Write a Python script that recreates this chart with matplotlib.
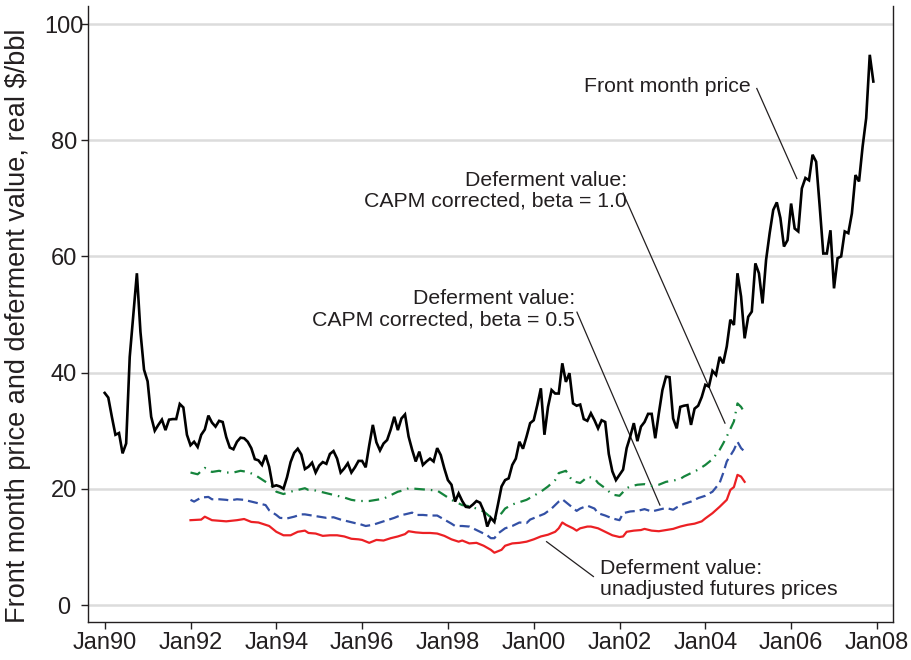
import matplotlib
matplotlib.use('Agg')
import matplotlib.pyplot as plt

plt.rcParams['font.family'] = ['Liberation Sans', 'DejaVu Sans']
plt.rcParams['lines.scale_dashes'] = False

# ---------------- data (months counted from Jan 1990) ----------------
front_price = [
    36.5, 35.7, 32.4, 29.3, 29.6, 26.1, 27.8, 42.7, 49.9, 57.1, 47.0, 40.5,   # 1990
    38.5, 32.4, 30.0, 31.0, 31.9, 30.1, 31.9, 32.0, 32.0, 34.6, 34.0, 29.3,   # 1991
    27.5, 28.1, 27.2, 29.3, 30.2, 32.6, 31.4, 30.7, 31.7, 31.5, 28.9, 27.1,   # 1992
    26.8, 28.1, 28.8, 28.7, 28.1, 27.0, 25.1, 24.9, 24.1, 25.8, 23.8, 20.4,   # 1993
    20.6, 20.4, 20.0, 22.0, 24.6, 26.2, 26.9, 25.9, 23.4, 23.8, 24.5, 22.8,   # 1994
    24.0, 24.6, 24.3, 26.0, 26.5, 25.2, 22.8, 23.5, 24.4, 22.8, 23.7, 24.8,   # 1995
    24.8, 23.7, 27.5, 31.0, 28.0, 26.6, 27.8, 28.4, 30.2, 32.4, 30.1, 32.1,   # 1996
    32.8, 29.0, 26.7, 24.7, 26.4, 24.1, 24.7, 25.2, 24.7, 27.0, 25.8, 23.5,   # 1997
    21.5, 20.7, 17.8, 19.2, 17.9, 16.9, 16.8, 17.3, 17.9, 17.6, 16.2, 13.5,   # 1998
    15.0, 14.3, 17.3, 20.4, 21.5, 21.8, 24.1, 25.2, 28.1, 26.9, 29.0, 31.3,   # 1999
    31.8, 34.4, 37.3, 29.3, 34.1, 37.0, 36.4, 36.4, 41.6, 38.4, 39.9, 34.7,   # 2000
    34.3, 34.5, 32.0, 31.7, 33.0, 31.8, 30.4, 31.8, 31.5, 26.0, 23.0, 21.5,   # 2001
    22.4, 23.3, 27.0, 29.0, 31.3, 28.2, 30.7, 31.5, 32.9, 32.9, 28.7, 33.0,   # 2002
    37.0, 39.3, 39.2, 32.1, 30.4, 34.1, 34.3, 34.4, 31.0, 33.8, 34.3, 35.8,   # 2003
    37.9, 37.6, 40.3, 39.6, 42.7, 41.6, 44.5, 49.1, 48.2, 57.1, 53.1, 45.9,   # 2004
    49.6, 50.5, 58.8, 57.1, 51.9, 59.4, 64.0, 68.0, 69.3, 66.6, 61.7, 62.8,   # 2005
    69.1, 64.8, 64.3, 71.7, 73.5, 73.1, 77.5, 76.3, 68.6, 60.5, 60.5, 64.5,   # 2006
    54.5, 59.7, 60.0, 64.3, 64.0, 67.4, 74.0, 72.9, 78.9, 83.8, 94.7, 90.1,   # 2007
]
front_months = list(range(len(front_price)))

unadj_months = [24, 27, 28, 30, 34, 37, 39, 41, 43, 44, 46, 48, 50, 52, 54, 56, 57, 59, 61, 63,
                65, 67, 69, 71, 72, 74, 76, 78, 80, 82, 84, 85, 87, 89, 91, 93, 95, 97, 99, 100,
                102, 104, 106, 108, 109, 111, 112, 114, 116, 118, 120, 122, 124, 126, 127, 128,
                129, 131, 132, 133, 135, 136, 138, 139, 141, 142, 144, 145, 146, 148, 150, 151,
                153, 155, 157, 159, 161, 163, 165, 167, 168, 170, 172, 174, 175, 176, 177, 178, 179]
unadj_value = [14.6, 14.7, 15.2, 14.6, 14.4, 14.6, 14.8, 14.3, 14.2, 14.0, 13.6, 12.6, 12.0, 12.0,
               12.6, 12.8, 12.4, 12.3, 11.9, 12.0, 12.0, 11.8, 11.4, 11.3, 11.2, 10.7, 11.2, 11.1,
               11.5, 11.8, 12.2, 12.7, 12.5, 12.4, 12.4, 12.3, 11.9, 11.3, 10.9, 11.1, 10.6, 10.7,
               10.2, 9.5, 9.0, 9.5, 10.2, 10.6, 10.7, 10.9, 11.3, 11.8, 12.1, 12.6, 13.2, 14.2,
               13.8, 13.2, 12.8, 13.2, 13.5, 13.5, 13.2, 12.9, 12.3, 12.0, 11.7, 11.8, 12.6, 12.8,
               12.9, 13.1, 12.8, 12.7, 12.9, 13.1, 13.5, 13.8, 14.0, 14.4, 14.9, 15.8, 16.9, 18.1,
               19.8, 20.3, 22.4, 22.1, 21.2]

beta05_months = [24, 25, 27, 29, 30, 32, 34, 35, 37, 39, 41, 43, 45, 46, 48, 49, 51, 53, 55, 56,
                 58, 60, 62, 64, 66, 68, 70, 71, 73, 75, 77, 79, 81, 83, 84, 86, 87, 89, 91, 93,
                 95, 97, 98, 100, 102, 104, 106, 107, 108, 109, 110, 112, 114, 116, 118, 119, 121,
                 123, 125, 127, 128, 130, 132, 133, 135, 137, 138, 140, 142, 144, 145, 147, 149,
                 151, 153, 155, 157, 159, 160, 162, 164, 166, 168, 170, 172, 173, 174, 176, 177,
                 178, 179]
beta05_value = [18.1, 17.8, 18.5, 18.6, 18.2, 18.2, 18.1, 18.0, 18.2, 18.1, 17.8, 17.5, 17.2, 16.3,
                15.5, 15.0, 14.9, 15.2, 15.6, 15.6, 15.4, 15.2, 15.0, 15.1, 14.7, 14.4, 14.1, 14.0,
                13.6, 13.8, 14.2, 14.6, 15.0, 15.5, 15.6, 15.9, 15.5, 15.5, 15.4, 15.4, 14.7, 14.0,
                13.6, 13.6, 13.5, 12.9, 12.3, 12.0, 11.5, 11.5, 12.3, 13.2, 13.6, 14.2, 14.1, 14.7,
                15.2, 15.7, 16.6, 17.8, 18.2, 17.2, 16.2, 16.6, 17.1, 16.6, 15.8, 15.4, 14.9, 14.6,
                15.8, 16.1, 16.2, 16.5, 16.1, 16.4, 16.7, 16.4, 16.8, 17.4, 17.8, 18.4, 18.8, 19.5,
                21.0, 22.7, 24.7, 26.7, 28.1, 27.0, 26.4]

beta10_months = [24, 26, 28, 29, 30, 32, 34, 36, 38, 40, 42, 43, 45, 47, 48, 50, 52, 54, 56, 57,
                 59, 61, 63, 65, 67, 69, 71, 72, 74, 76, 78, 80, 82, 84, 85, 87, 89, 91, 93, 95,
                 97, 99, 100, 102, 104, 106, 108, 109, 111, 112, 114, 116, 118, 120, 122, 124, 126,
                 127, 129, 130, 131, 133, 134, 135, 137, 138, 140, 142, 144, 146, 147, 149, 151,
                 153, 155, 157, 159, 161, 162, 164, 166, 168, 170, 172, 173, 174, 176, 177, 178, 179]
beta10_value = [22.8, 22.5, 23.6, 23.3, 22.9, 23.1, 22.8, 22.8, 23.1, 22.9, 22.4, 22.0, 21.2, 20.4,
                19.5, 19.1, 19.5, 19.8, 20.1, 19.8, 19.7, 19.4, 19.1, 18.8, 18.5, 18.1, 17.9, 17.9,
                17.9, 18.1, 18.3, 18.9, 19.5, 19.8, 20.1, 20.0, 19.9, 19.8, 19.7, 18.9, 18.1, 17.5,
                17.2, 17.0, 16.6, 16.1, 15.1, 14.7, 15.8, 16.6, 17.3, 17.7, 18.1, 18.8, 19.5, 20.4,
                21.5, 22.7, 23.1, 22.1, 21.3, 21.0, 21.5, 22.1, 21.8, 21.0, 20.1, 19.0, 18.8, 20.1,
                20.4, 20.7, 20.8, 20.5, 20.7, 21.2, 21.4, 21.7, 22.1, 22.7, 23.3, 24.1, 25.1, 26.7,
                27.8, 29.0, 31.6, 34.7, 34.1, 33.1]

xtick_months = [0, 24, 48, 72, 96, 120, 144, 168, 192, 216]
xtick_labels = ['Jan90', 'Jan92', 'Jan94', 'Jan96', 'Jan98', 'Jan00', 'Jan02', 'Jan04', 'Jan06', 'Jan08']
ytick_values = [0, 20, 40, 60, 80, 100]
y_label = 'Front month price and deferment value, real $/bbl'

label_front = 'Front month price'
label_b10 = 'Deferment value:\nCAPM corrected, beta = 1.0'
label_b05 = 'Deferment value:\nCAPM corrected, beta = 0.5'
label_unadj = 'Deferment value:\nunadjusted futures prices'

# ---------------- figure ----------------
W, H = 912, 660
fig = plt.figure(figsize=(W / 100, H / 100), dpi=100)
left_px, right_px, bottom_px, top_px = 88.4, 893, 622, 6
ax = fig.add_axes([left_px / W, (H - bottom_px) / H, (right_px - left_px) / W, (bottom_px - top_px) / H])

ax.set_xlim(-4.56, 220.5)
ax.set_ylim((605 - bottom_px) / 5.81, 103.1)

ax.yaxis.grid(True, color='#dcdcdc', lw=1.8)
ax.set_axisbelow(True)

ax.plot(front_months, front_price, color='black', lw=1.9, solid_joinstyle='miter', zorder=5)
ax.plot(unadj_months, unadj_value, color='#ec2024', lw=1.6, zorder=4)
ax.plot(beta05_months, beta05_value, color='#3350a5', lw=1.6, dashes=(7.2, 3.6), zorder=4)
ax.plot(beta10_months, beta10_value, color='#15843c', lw=1.6, dashes=(7.6, 4.3, 1.1, 4.3), zorder=4)

fs_txt = 15.3
txt_col = '#231f20'
ax.text(157.3, 89.3, label_front, fontsize=fs_txt, color=txt_col, ha='center', va='center')
ax.plot([182.4, 193.6], [88.9, 73.4], color=txt_col, lw=0.9)

ax.text(146.1, 71.3, label_b10, fontsize=fs_txt, color=txt_col, ha='right', va='center',
        multialignment='right', linespacing=1.15)
ax.plot([145.0, 173.5], [70.9, 31.3], color=txt_col, lw=0.9)

ax.text(131.6, 50.9, label_b05, fontsize=fs_txt, color=txt_col, ha='right', va='center',
        multialignment='right', linespacing=1.15)
ax.plot([132.1, 155.3], [50.4, 17.2], color=txt_col, lw=0.9)

ax.text(138.5, 4.5, label_unadj, fontsize=fs_txt, color=txt_col, ha='left', va='center',
        multialignment='left', linespacing=1.15)
ax.plot([123.6, 136.7], [10.9, 4.9], color=txt_col, lw=0.9)

ax.set_xticks(xtick_months)
ax.set_xticklabels(xtick_labels)
ax.set_yticks(ytick_values)
ax.tick_params(axis='both', labelsize=17, length=5, width=1.0, color=txt_col, labelcolor=txt_col)
ax.tick_params(axis='x', pad=2.5)
ax.tick_params(axis='y', pad=12.5)
for lbl in ax.get_yticklabels():
    lbl.set_horizontalalignment('center')

fig.text(18 / W, 1 - 326 / H, y_label, fontsize=19.5, color=txt_col, rotation=90,
         ha='center', va='center')

ax.spines['top'].set_visible(False)
for s in ['left', 'bottom', 'right']:
    ax.spines[s].set_linewidth(1.0)
    ax.spines[s].set_color(txt_col)

fig.savefig('out.png', dpi=100)
